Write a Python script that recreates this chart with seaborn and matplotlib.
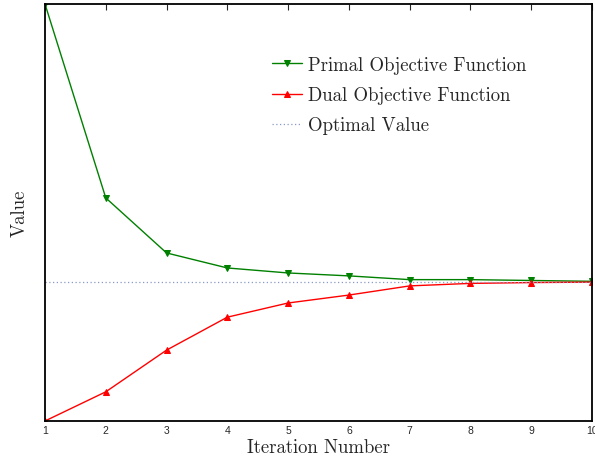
import numpy as np
import pandas as pd
import matplotlib
matplotlib.use("Agg")
import matplotlib.pyplot as plt
import seaborn as sns

# data (arbitrary value units, no y tick labels shown)
iterations = [1, 2, 3, 4, 5, 6, 7, 8, 9, 10]
primal = [100, 53.5, 40.3, 36.7, 35.5, 34.8, 33.9, 33.9, 33.7, 33.5]
dual = [0, 7.0, 17.0, 24.9, 28.3, 30.2, 32.4, 33.0, 33.2, 33.3]
optimal = 33.4

sns.set_style("white")
plt.rcParams["font.family"] = ["cmr10", "DejaVu Serif"]
plt.rcParams["axes.formatter.use_mathtext"] = True

fig = plt.figure(figsize=(5.95, 4.6), dpi=100)
ax = fig.add_axes([45 / 595, 38 / 460, 547 / 595, 417 / 460])

df = pd.DataFrame({"iter": iterations, "primal": primal, "dual": dual})

sns.lineplot(data=df, x="iter", y="primal", ax=ax, color="#008000", marker="v",
             markersize=5, markeredgecolor="#008000", linewidth=1.0,
             label="Primal Objective Function")
sns.lineplot(data=df, x="iter", y="dual", ax=ax, color="#ff0000", marker="^",
             markersize=5, markeredgecolor="#ff0000", linewidth=1.0,
             label="Dual Objective Function")
ax.axhline(optimal, color="#8a9ac8", linestyle=(0, (1, 2)), linewidth=0.9,
           label="Optimal Value")

ax.set_xlim(1, 10)
ax.set_ylim(0, 100)
ax.set_xticks(iterations)
ax.set_xticklabels([str(i) for i in iterations], family="Liberation Sans", fontsize=7.5)
ax.set_yticks([])
ax.tick_params(axis="x", direction="in", length=4.5, width=0.8, top=True, pad=3)

for s in ax.spines.values():
    s.set_linewidth(1.3)
    s.set_color("black")

ax.set_xlabel("Iteration Number", fontsize=13.5, labelpad=2)
ax.set_ylabel("Value", fontsize=13.5, labelpad=12)

leg = ax.legend(loc="upper left", bbox_to_anchor=(0.415, 0.876), frameon=False,
                fontsize=13.5, handlelength=1.6, handletextpad=0.3,
                labelspacing=0.66, borderpad=0, borderaxespad=0)

fig.savefig("out.png", dpi=100)
